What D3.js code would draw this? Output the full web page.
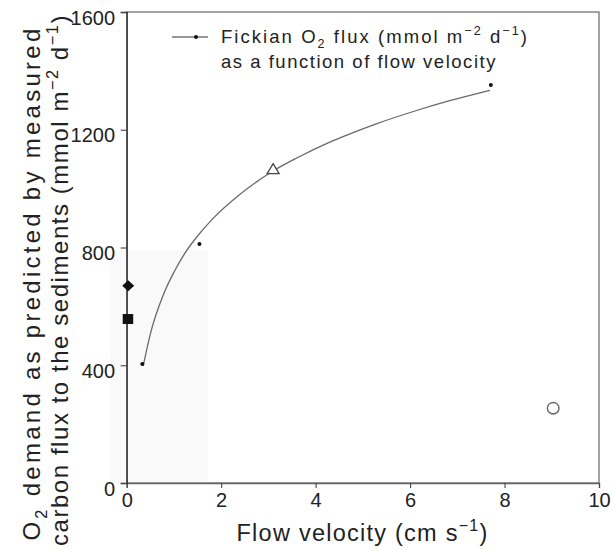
<!DOCTYPE html>
<html><head><meta charset="utf-8">
<script src="https://cdn.jsdelivr.net/npm/d3@7"></script>
<style>
body{margin:0;background:#fff}
svg{display:block}
text{font-family:"Liberation Sans",Arial,Helvetica,sans-serif;fill:#222}
</style>
</head><body>
<svg id="c" width="612" height="550"></svg>
<script>
// ---- data ----
const xTicks = [0, 2, 4, 6, 8, 10];
const yTicks = [0, 400, 800, 1200, 1600];
// Fickian O2 flux measurements (small dots)
const fickX = [0.33, 1.54, 7.71];
const fickY = [404, 812, 1352];
// fitted curve, points
const curveX = [0.35, 0.5, 0.78, 1.0, 1.23, 1.5, 1.83, 2.4, 3.1, 3.6, 4.3, 4.66, 5.3, 6.07, 6.8, 7.69];
const curveY = [398, 506, 641, 716, 780, 839, 899, 981, 1060, 1104, 1158, 1182, 1221, 1262, 1297, 1334];
// other symbols
const triX = [3.10], triY = [1066];     // open triangle
const diaX = [0], diaY = [670];         // filled diamond
const sqX = [0], sqY = [557];           // filled square
const cirX = [9.03], cirY = [254];      // open circle
// faint scan shading block
const shadeX = [-0.35, 1.72], shadeY = [0, 790];

const svg = d3.select('#c');
const x = d3.scaleLinear().domain([0, 10]).range([126.7, 599]);
const y = d3.scaleLinear().domain([0, 1600]).range([483, 12]);

// shading
svg.append('rect')
  .attr('x', x(shadeX[0])).attr('y', y(shadeY[1]))
  .attr('width', x(shadeX[1]) - x(shadeX[0])).attr('height', y(shadeY[0]) - y(shadeY[1]))
  .attr('fill', '#f9f9f9');

// frame
svg.append('rect')
  .attr('x', x(0)).attr('y', y(1600))
  .attr('width', x(10) - x(0)).attr('height', y(0) - y(1600))
  .attr('fill', 'none').attr('stroke', '#666').attr('stroke-width', 1.2);

// axes
const gx = svg.append('g').attr('transform', `translate(0,${y(0)})`)
  .call(d3.axisBottom(x).tickValues(xTicks).tickSize(5).tickPadding(4.8).tickFormat(d3.format('d')));
const gy = svg.append('g').attr('transform', `translate(${x(0)},0)`)
  .call(d3.axisLeft(y).tickValues(yTicks).tickSize(6).tickPadding(5.7).tickFormat(d3.format('d')));
[gx, gy].forEach(g => {
  g.select('.domain').attr('stroke', '#333').attr('stroke-width', 1.3);
  g.selectAll('.tick line').attr('stroke', '#444').attr('stroke-width', 1.1);
  g.selectAll('.tick text').attr('font-size', 20).attr('fill', '#333')
   .style('font-family', '"Liberation Sans",Arial,sans-serif');
});
gx.select('.domain').attr('stroke', '#666');
gy.selectAll('.tick text').attr('dy', '0.6em');

// curve
const line = d3.line().x(d => x(d[0])).y(d => y(d[1])).curve(d3.curveMonotoneX);
svg.append('path').datum(curveX.map((v, i) => [v, curveY[i]]))
  .attr('d', line).attr('fill', 'none').attr('stroke', '#6a6a6a').attr('stroke-width', 1.3);

// Fickian dots
svg.selectAll('.fd').data(fickX.map((v, i) => [v, fickY[i]])).enter().append('circle')
  .attr('cx', d => x(d[0])).attr('cy', d => y(d[1])).attr('r', 2).attr('fill', '#111');

// triangle
svg.selectAll('.tri').data(triX.map((v, i) => [v, triY[i]])).enter().append('path')
  .attr('transform', d => `translate(${x(d[0])},${y(d[1])})`)
  .attr('d', 'M0,-5.5 L6,4.5 L-6,4.5 Z')
  .attr('fill', '#fff').attr('stroke', '#444').attr('stroke-width', 1.3);

// diamond
svg.selectAll('.dia').data(diaX.map((v, i) => [v, diaY[i]])).enter().append('path')
  .attr('transform', d => `translate(${x(d[0]) + 1.5},${y(d[1])})`)
  .attr('d', 'M0,-5.5 L6,0 L0,5.5 L-6,0 Z').attr('fill', '#111');

// square
svg.selectAll('.sq').data(sqX.map((v, i) => [v, sqY[i]])).enter().append('rect')
  .attr('x', d => x(d[0]) - 4).attr('y', d => y(d[1]) - 5)
  .attr('width', 10.5).attr('height', 10).attr('fill', '#111');

// open circle
svg.selectAll('.oc').data(cirX.map((v, i) => [v, cirY[i]])).enter().append('circle')
  .attr('cx', d => x(d[0])).attr('cy', d => y(d[1])).attr('r', 5.8)
  .attr('fill', 'none').attr('stroke', '#666').attr('stroke-width', 1.4);

// ---- rich text helpers ----
function rich(sel, parts, fs) {
  let shift = 0;
  parts.forEach(([s, k]) => {
    const t = sel.append('tspan').text(s);
    const target = k === 'sup' ? -0.42 * fs : k === 'sub' ? 0.28 * fs : 0;
    t.attr('dy', target - shift); shift = target;
    if (k !== 'n') t.attr('font-size', 0.68 * fs);
  });
  return sel;
}
function fit(sel, target) {
  const n = sel.text().length;
  const w = sel.node().getComputedTextLength();
  sel.attr('letter-spacing', ((target - w) / n).toFixed(2));
}

// legend
svg.append('line').attr('x1', 172).attr('x2', 208).attr('y1', 37).attr('y2', 37)
  .attr('stroke', '#333').attr('stroke-width', 1.2);
svg.append('circle').attr('cx', 196).attr('cy', 37).attr('r', 2).attr('fill', '#111');
const lg1 = rich(svg.append('text').attr('x', 221).attr('y', 43).attr('font-size', 18.5),
  [['Fickian O', 'n'], ['2', 'sub'], [' flux (mmol m', 'n'], ['\u22122', 'sup'], [' d', 'n'], ['\u22121', 'sup'], [')', 'n']], 18.5);
fit(lg1, 308);
const lg2 = svg.append('text').attr('x', 221).attr('y', 68).attr('font-size', 18.5)
  .text('as a function of flow velocity');
fit(lg2, 276);

// x title
const xt = rich(svg.append('text').attr('x', 362.5).attr('y', 541).attr('font-size', 23.5)
  .attr('text-anchor', 'middle'),
  [['Flow velocity (cm s', 'n'], ['\u22121', 'sup'], [')', 'n']], 23.5);
fit(xt, 252);

// y title
const yg = svg.append('g').attr('transform', 'rotate(-90)');
const yt1 = rich(yg.append('text').attr('x', -283).attr('y', 40).attr('font-size', 24)
  .attr('text-anchor', 'middle'),
  [['O', 'n'], ['2', 'sub'], [' demand as predicted by measured', 'n']], 24);
fit(yt1, 515);
const yt2 = rich(yg.append('text').attr('x', -280).attr('y', 68).attr('font-size', 24)
  .attr('text-anchor', 'middle'),
  [['carbon flux to the sediments (mmol m', 'n'], ['\u22122', 'sup'], [' d', 'n'], ['\u22121', 'sup'], [')', 'n']], 24);
fit(yt2, 532);
</script>
</body></html>
